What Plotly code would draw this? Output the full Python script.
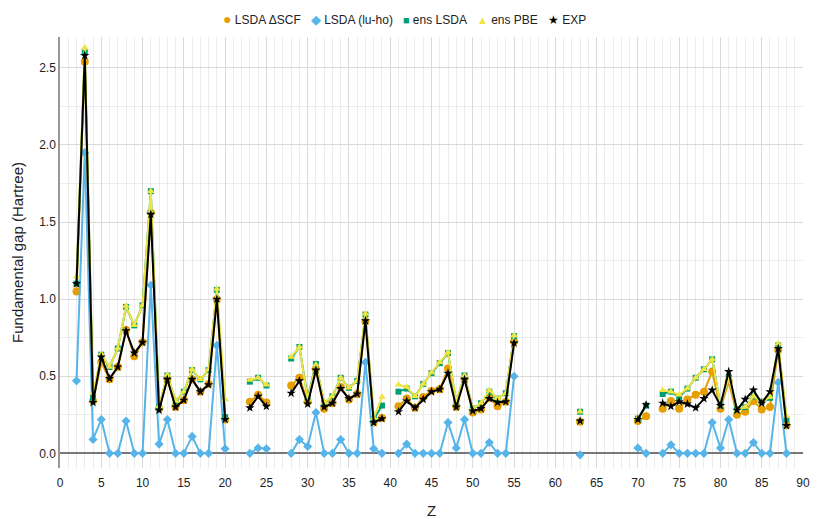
import plotly.graph_objects as go

# atomic numbers (None = break in the lines)
Z = [2, 3, 4, 5, 6, 7, 8, 9, 10, 11, 12, 13, 14, 15, 16, 17, 18, 19, 20, None,
     23, 24, 25, None,
     28, 29, 30, 31, 32, 33, 34, 35, 36, 37, 38, 39, None,
     41, 42, 43, 44, 45, 46, 47, 48, 49, 50, 51, 52, 53, 54, 55, None,
     63, None,
     70, 71, None,
     73, 74, 75, 76, 77, 78, 79, 80, 81, 82, 83, 84, 85, 86, 87, 88]

lsda_dscf = [1.05, 2.54, 0.34, 0.59, 0.48, 0.56, 0.80, 0.63, 0.72, 1.56, 0.29, 0.48, 0.30, 0.345, 0.48, 0.40, 0.45, 1.00, 0.22, None,
             0.335, 0.38, 0.33, None,
             0.44, 0.49, 0.335, 0.545, 0.29, 0.325, 0.43, 0.35, 0.385, 0.855, 0.20, 0.23, None,
             0.305, 0.355, 0.295, 0.365, 0.405, 0.415, 0.55, 0.30, 0.48, 0.265, 0.285, 0.36, 0.305, 0.335, 0.725, None,
             0.205, None,
             0.21, 0.24, None,
             0.29, 0.34, 0.29, 0.35, 0.38, 0.40, 0.53, 0.29, 0.465, 0.25, 0.27, 0.34, 0.285, 0.30, 0.67, 0.18]

lsda_luho = [0.47, 1.95, 0.09, 0.22, 0.0, 0.0, 0.21, 0.0, 0.0, 1.09, 0.06, 0.22, 0.0, 0.0, 0.11, 0.0, 0.0, 0.70, 0.03, None,
             0.0, 0.035, 0.03, None,
             0.0, 0.09, 0.045, 0.265, 0.0, 0.0, 0.09, 0.0, 0.0, 0.59, 0.03, 0.0, None,
             0.0, 0.06, 0.0, 0.0, 0.0, 0.0, 0.20, 0.035, 0.22, 0.0, 0.0, 0.07, 0.0, 0.0, 0.50, None,
             -0.01, None,
             0.035, 0.0, None,
             0.0, 0.055, 0.0, 0.0, 0.0, 0.0, 0.20, 0.035, 0.22, 0.0, 0.0, 0.07, 0.0, 0.0, 0.46, 0.0]

ens_lsda = [1.10, 2.60, 0.36, 0.64, 0.56, 0.68, 0.95, 0.83, 0.96, 1.70, 0.30, 0.505, 0.34, 0.40, 0.54, 0.48, 0.54, 1.06, 0.235, None,
            0.465, 0.49, 0.44, None,
            0.615, 0.69, 0.36, 0.58, 0.325, 0.37, 0.49, 0.425, 0.47, 0.90, 0.22, 0.31, None,
            0.40, 0.42, 0.37, 0.45, 0.52, 0.585, 0.65, 0.335, 0.505, 0.29, 0.325, 0.40, 0.355, 0.39, 0.76, None,
            0.27, None,
            0.225, 0.31, None,
            0.385, 0.40, 0.365, 0.42, 0.49, 0.545, 0.61, 0.31, 0.49, 0.285, 0.30, 0.37, 0.335, 0.36, 0.70, 0.22]

ens_pbe = [1.145, 2.63, 0.39, 0.645, 0.56, 0.68, 0.955, 0.83, 0.96, 1.70, 0.305, 0.51, 0.34, 0.40, 0.545, 0.48, 0.545, 1.065, 0.35, None,
           0.475, 0.49, 0.445, None,
           0.625, 0.69, 0.35, 0.575, 0.33, 0.37, 0.49, 0.425, 0.47, 0.905, 0.23, 0.365, None,
           0.445, 0.43, 0.37, 0.45, 0.525, 0.59, 0.655, 0.335, 0.505, 0.29, 0.325, 0.41, 0.355, 0.39, 0.765, None,
           0.27, None,
           0.23, None, None,
           0.41, 0.40, 0.38, 0.42, 0.49, 0.545, 0.61, 0.31, 0.49, 0.285, 0.30, 0.37, 0.335, 0.365, 0.71, 0.24]

exp = [1.10, 2.58, 0.33, 0.625, 0.485, 0.56, 0.795, 0.65, 0.72, 1.55, 0.28, 0.48, 0.30, 0.345, 0.48, 0.40, 0.445, 1.00, 0.22, None,
       0.295, 0.37, 0.305, None,
       0.39, 0.47, 0.32, 0.54, 0.30, 0.325, 0.42, 0.355, 0.385, 0.86, 0.20, 0.225, None,
       0.27, 0.34, 0.295, 0.35, 0.40, 0.415, 0.52, 0.30, 0.48, 0.275, 0.29, 0.355, 0.33, 0.335, 0.715, None,
       0.21, None,
       0.22, 0.315, None,
       0.325, 0.305, 0.335, 0.32, 0.295, 0.355, 0.41, 0.31, 0.53, 0.28, 0.35, 0.41, 0.325, 0.40, 0.68, 0.18]

# name, values, colour, marker symbol, marker size, legend glyph, glyph size
series = [
    ("LSDA ΔSCF", lsda_dscf, "#E69F00", "circle", 8, "●", 14),
    ("LSDA (lu-ho)", lsda_luho, "#56B4E9", "diamond", 7, "◆", 13),
    ("ens LSDA", ens_lsda, "#009E73", "square", 6, "■", 11),
    ("ens PBE", ens_pbe, "#F0E442", "triangle-up", 7, "▲", 11),
    ("EXP", exp, "black", "star", 7, "★", 12),
]

fig = go.Figure()
for name, vals, color, symbol, size, glyph, gsize in series:
    fig.add_trace(go.Scatter(
        x=Z, y=vals, name=name, mode="lines+markers",
        line=dict(color=color, width=2),
        marker=dict(color=color, symbol=symbol, size=size),
        connectgaps=False, showlegend=False,
    ))

# compact legend as one line of text
legend_text = "&nbsp;&nbsp;&nbsp;".join(
    f"<span style='color:{c};font-size:{gs}px'>{g}</span> {n}"
    for n, _, c, _, _, g, gs in series
)
fig.add_annotation(
    text=legend_text, xref="paper", yref="paper", x=0.464, y=1.042,
    xanchor="center", yanchor="middle", showarrow=False,
    font=dict(size=12, color="#222"),
)

fig.update_layout(
    width=822, height=511,
    margin=dict(l=52, r=27, t=29, b=51),
    plot_bgcolor="white", paper_bgcolor="white",
    font=dict(family="Liberation Sans, Arial, sans-serif", size=12, color="#222"),
    showlegend=False,
)
fig.update_xaxes(
    title=dict(text="Z", font=dict(size=15), standoff=16),
    range=[0, 90], dtick=5, tick0=0, showgrid=True, gridcolor="#d9d9d9", gridwidth=1,
    minor=dict(dtick=1, showgrid=True, gridcolor="#ececec"),
    showline=False, zeroline=False, ticks="", ticklabelstandoff=6, automargin=False,
)
fig.update_yaxes(
    title=dict(text="Fundamental gap (Hartree)", font=dict(size=15), standoff=12),
    range=[-0.095, 2.70], dtick=0.5, tick0=0, tickformat=".1f",
    showgrid=True, gridcolor="#d9d9d9", gridwidth=1,
    minor=dict(dtick=0.25, showgrid=True, gridcolor="#ececec"),
    showline=True, linecolor="#999", linewidth=1.5,
    zeroline=True, zerolinecolor="#777", zerolinewidth=1.5, ticks="", automargin=False,
)

fig.write_html("out.html")
